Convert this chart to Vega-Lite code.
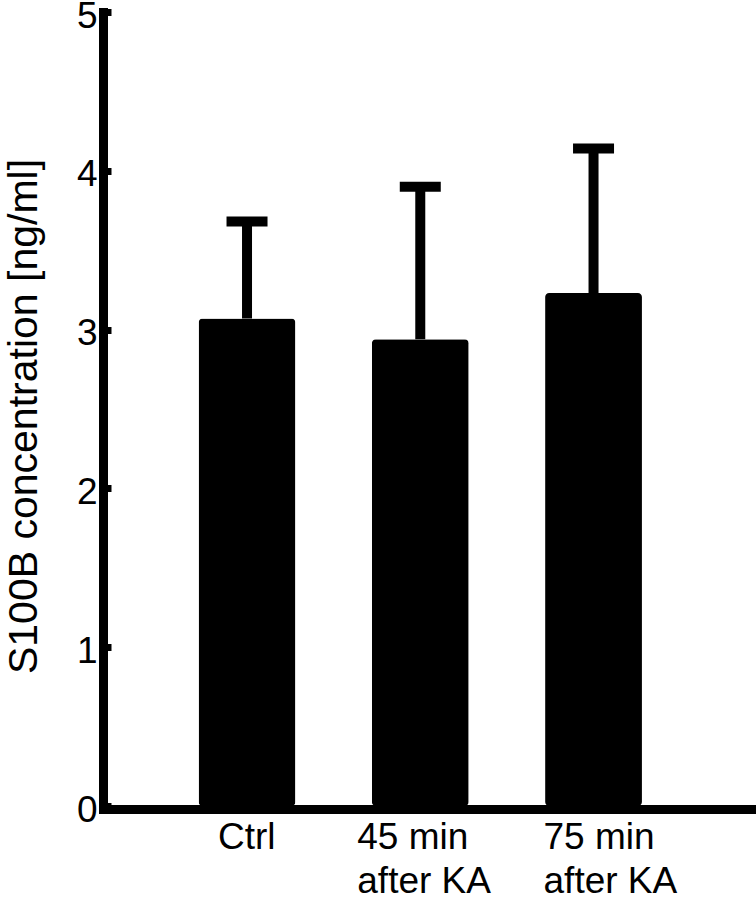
{
  "$schema": "https://vega.github.io/schema/vega-lite/v6.json",
  "width": 653,
  "height": 794,
  "autosize": {"type": "none"},
  "padding": {"left": 103, "top": 12, "right": 0, "bottom": 93},
  "background": "white",
  "config": {
    "view": {"stroke": null},
    "font": "Liberation Sans",
    "axisY": {
      "domainColor": "black",
      "domainWidth": 9,
      "domainCap": "square",
      "tickColor": "black",
      "tickSize": -8,
      "tickWidth": 7,
      "grid": false,
      "labelFontSize": 37,
      "labelColor": "black",
      "labelPadding": 14,
      "labelOffset": 4,
      "titleFontSize": 41,
      "titleFontWeight": "normal",
      "titleColor": "black",
      "titleY": 404,
      "titleX": -58,
      "titleBaseline": "bottom",
      "titleAngle": -90
    }
  },
  "data": {
    "values": [
      {"group": "Ctrl", "mean": 3.07, "upper": 3.68},
      {"group": "45 min after KA", "mean": 2.94, "upper": 3.9},
      {"group": "75 min after KA", "mean": 3.23, "upper": 4.14}
    ]
  },
  "encoding": {
    "x": {
      "field": "group",
      "type": "nominal",
      "sort": null,
      "scale": {"paddingInner": 0.441, "paddingOuter": 0.605, "align": 0.456},
      "axis": {
        "title": null,
        "ticks": false,
        "domainColor": "black",
        "domainWidth": 9,
        "domainCap": "square",
        "offset": 3,
        "labelAngle": 0,
        "labelFontSize": 37,
        "labelColor": "black",
        "labelLineHeight": 44,
        "labelPadding": 10,
        "labelExpr": "datum.value === 'Ctrl' ? 'Ctrl' : [substring(datum.value, 0, 6), substring(datum.value, 7)]",
        "labelAlign": "left",
        "labelOffset": {
          "condition": [
            {"test": "datum.value === 'Ctrl'", "value": -29},
            {"test": "datum.value === '75 min after KA'", "value": -50}
          ],
          "value": -63
        }
      }
    }
  },
  "layer": [
    {
      "mark": {"type": "rule", "color": "black", "strokeWidth": 10},
      "encoding": {
        "y": {"field": "mean", "type": "quantitative", "scale": {"domain": [0, 5]}, "title": "S100B concentration [ng/ml]", "axis": {"values": [0, 1, 2, 3, 4, 5], "format": "d"}},
        "y2": {"field": "upper"}
      }
    },
    {
      "mark": {"type": "bar", "color": "black", "cornerRadius": 4},
      "encoding": {
        "y": {"field": "mean", "type": "quantitative", "scale": {"domain": [0, 5]}, "title": "S100B concentration [ng/ml]", "axis": {"values": [0, 1, 2, 3, 4, 5], "format": "d"}}
      }
    },
    {
      "mark": {"type": "tick", "color": "black", "opacity": 1, "size": 41, "thickness": 10},
      "encoding": {
        "y": {"field": "upper", "type": "quantitative", "scale": {"domain": [0, 5]}, "title": "S100B concentration [ng/ml]", "axis": {"values": [0, 1, 2, 3, 4, 5], "format": "d"}}
      }
    }
  ]
}
